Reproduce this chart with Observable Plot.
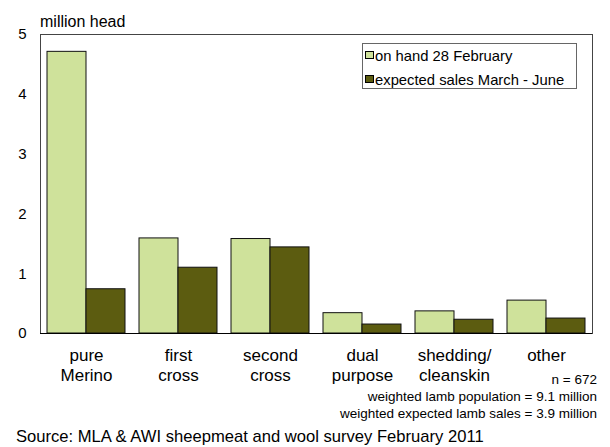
<!DOCTYPE html>
<html>
<head>
<meta charset="utf-8">
<script src="https://cdn.jsdelivr.net/npm/d3@7"></script>
<script src="https://cdn.jsdelivr.net/npm/@observablehq/plot@0.6"></script>
<style>
  html, body { margin: 0; padding: 0; background: #fff; }
  #wrap { position: relative; width: 610px; height: 447px; font-family: "Liberation Sans", Arial, Helvetica, sans-serif; color: #000; overflow: hidden; }
  #wrap svg { position: absolute; left: 0; top: 0; }
  .abs { position: absolute; white-space: nowrap; line-height: 1; }
  #ylabel { left: 40px; top: 14px; font-size: 16px; }
  #legend { left: 362px; top: 43px; width: 213px; height: 44px; border: 1px solid #666; background: #fff; }
  .li { position: absolute; left: 2px; font-size: 14.8px; }
  .sw { display: inline-block; width: 7px; height: 6px; border: 1px solid #000; margin-right: 1px; vertical-align: 2px; }
  #notes { right: 13px; top: 371px; text-align: right; font-size: 13.5px; line-height: 17px; }
  #source { left: 16px; top: 429px; font-size: 16.6px; }
</style>
</head>
<body>
<div id="wrap"></div>
<script>
const categories = ["pure\nMerino", "first\ncross", "second\ncross", "dual\npurpose", "shedding/\ncleanskin", "other"];
const seriesNames = ["on hand 28 February", "expected sales March - June"];
const onHand = [4.71, 1.59, 1.58, 0.34, 0.37, 0.55];
const sales = [0.74, 1.10, 1.44, 0.15, 0.23, 0.25];
const colors = ["#cfe29b", "#5c5c10"];
const yTicks = [0, 1, 2, 3, 4, 5];
const yLabel = "million head";
const notes = ["n = 672", "weighted lamb population = 9.1 million", "weighted expected lamb sales = 3.9 million"];
const source = "Source: MLA & AWI sheepmeat and wool survey February 2011";

const data = [];
categories.forEach((c, i) => {
  data.push({cat: c, series: seriesNames[0], value: onHand[i]});
  data.push({cat: c, series: seriesNames[1], value: sales[i]});
});

const chart = Plot.plot({
  width: 610,
  height: 447,
  marginTop: 34,
  marginLeft: 40,
  marginRight: 18,
  marginBottom: 114,
  style: {fontFamily: '"Liberation Sans", Arial, Helvetica, sans-serif', background: "transparent", color: "#000"},
  fx: {domain: categories, padding: 0, label: null},
  x: {domain: seriesNames, paddingInner: 0, paddingOuter: 0.16, axis: null},
  y: {domain: [0, 5], label: null},
  color: {domain: seriesNames, range: colors},
  marks: [
    Plot.frame({facet: "super", stroke: "#444", strokeWidth: 1}),
    Plot.barY(data, {fx: "cat", x: "series", y: "value", fill: "series", stroke: "#111", strokeWidth: 1}),
    Plot.ruleY([0], {stroke: "#000", strokeWidth: 1.2}),
    Plot.axisY({ticks: yTicks, tickSize: 0, tickPadding: 14, fontSize: 15, label: null, tickFormat: d => d}),
    Plot.axisFx({anchor: "bottom", tickSize: 0, tickPadding: 13, fontSize: 17, lineHeight: 1.18, label: null})
  ]
});

const wrap = document.getElementById("wrap");
wrap.appendChild(chart);

const yl = document.createElement("div");
yl.className = "abs"; yl.id = "ylabel"; yl.textContent = yLabel;
wrap.appendChild(yl);

const lg = document.createElement("div");
lg.className = "abs"; lg.id = "legend";
seriesNames.forEach((s, i) => {
  const row = document.createElement("div");
  row.className = "li";
  row.style.top = (4.5 + i * 24) + "px";
  const sw = document.createElement("span");
  sw.className = "sw"; sw.style.background = colors[i];
  row.appendChild(sw);
  row.appendChild(document.createTextNode(s));
  lg.appendChild(row);
});
wrap.appendChild(lg);

const nt = document.createElement("div");
nt.className = "abs"; nt.id = "notes";
nt.innerHTML = notes.map(n => n.replace(/&/g, "&amp;")).join("<br>");
wrap.appendChild(nt);

const src = document.createElement("div");
src.className = "abs"; src.id = "source"; src.textContent = source;
wrap.appendChild(src);
</script>
</body>
</html>
